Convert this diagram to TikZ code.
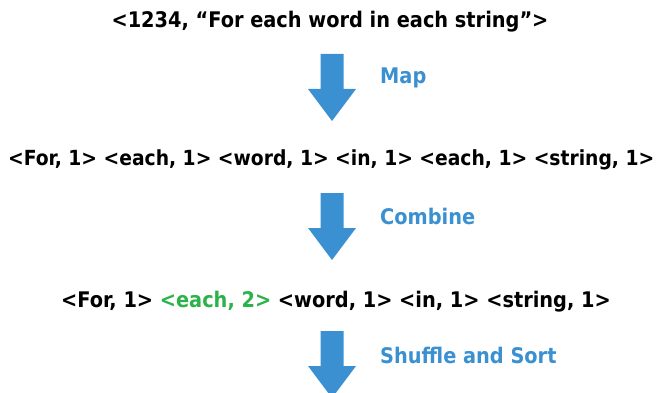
\documentclass[tikz,border=0pt]{standalone}
\usepackage{fontspec}
\setmainfont{DejaVu Sans Condensed}
\definecolor{arrowblue}{HTML}{3A90D0}
\definecolor{labelblue}{HTML}{3A90D0}
\definecolor{pairgreen}{HTML}{2CB24A}
\begin{document}
\begin{tikzpicture}[x=1pt,y=-1pt,
  txt/.style={font=\fontsize{21.5}{24}\selectfont\bfseries, inner sep=0pt},
  lbl/.style={txt, text=labelblue, anchor=base west},
  blockarrow/.style={fill=arrowblue, draw=none}]
\clip (0,0) rectangle (664,393);
\useasboundingbox (0,0) rectangle (664,393);
\node[txt, anchor=base] (l1) at (330,28) {<1234, “For each word in each string”>};
\node[txt, anchor=base west, font=\fontsize{20.8}{24}\selectfont\bfseries] (l2) at (8,165) {<For, 1> <each, 1> <word, 1> <in, 1> <each, 1> <string, 1>};
\node[txt, anchor=base west] (l3) at (61,307) {<For, 1> \textcolor{pairgreen}{<each, 2>} <word, 1> <in, 1> <string, 1>};
\coordinate (a1) at (332,54);
\coordinate (a2) at (332,193);
\coordinate (a3) at (332,331);
\foreach \a in {a1,a2,a3}
  \fill[blockarrow] (\a) +(-11.5,0) -- +(11.5,0) -- +(11.5,35) -- +(24,35) -- +(0,67) -- +(-24,35) -- +(-11.5,35) -- cycle;
\node[lbl] (m1) at (380,84) {Map};
\node[lbl] (m2) at (380,224) {Combine};
\node[lbl] (m3) at (380,363) {Shuffle and Sort};
\end{tikzpicture}
\end{document}
